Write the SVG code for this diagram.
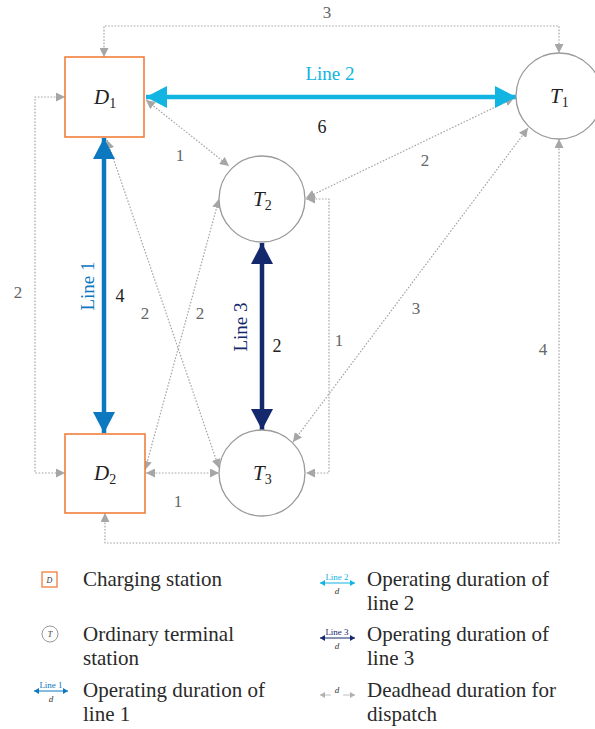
<svg xmlns="http://www.w3.org/2000/svg" width="595" height="729" viewBox="0 0 595 729">
<style>
.dot{fill:none;stroke:#a6a6a6;stroke-width:1.2;stroke-dasharray:1.6 1.6}
.box{fill:#fff;stroke:#f07f3c;stroke-width:1.6}
.circ{fill:#fff;stroke:#9a9a9a;stroke-width:1.3}
.nl{font-family:"Liberation Serif",serif;font-style:italic;font-size:21px;fill:#222}
.sub{font-size:14px;font-style:normal}
.num{font-family:"Liberation Serif",serif;font-size:17px;fill:#666;text-anchor:middle}
.numk{font-family:"Liberation Serif",serif;font-size:18px;fill:#222;text-anchor:middle}
.lab{font-family:"Liberation Serif",serif;font-size:19px;text-anchor:middle}
.leg{font-family:"Liberation Serif",serif;font-size:21px;fill:#2a2a2a}
.tiny{font-family:"Liberation Serif",serif;font-size:9px;text-anchor:middle}
</style>
<defs>
<marker id="ag" markerUnits="userSpaceOnUse" markerWidth="10" markerHeight="9" refX="9" refY="4.5" orient="auto-start-reverse"><path d="M0,0 L9,4.5 L0,9 z" fill="#a6a6a6"/></marker>
<marker id="a1" markerUnits="userSpaceOnUse" markerWidth="22" markerHeight="22" refX="21" refY="11" orient="auto-start-reverse"><path d="M0,0 L21,11 L0,22 z" fill="#0b78c0"/></marker>
<marker id="a2" markerUnits="userSpaceOnUse" markerWidth="22" markerHeight="22" refX="21" refY="11" orient="auto-start-reverse"><path d="M0,0 L21,11 L0,22 z" fill="#12b4e1"/></marker>
<marker id="a3" markerUnits="userSpaceOnUse" markerWidth="22" markerHeight="22" refX="21" refY="11" orient="auto-start-reverse"><path d="M0,0 L21,11 L0,22 z" fill="#14286e"/></marker>
<marker id="s1" markerUnits="userSpaceOnUse" markerWidth="6" markerHeight="6" refX="5" refY="3" orient="auto-start-reverse"><path d="M0,0 L5,3 L0,6 z" fill="#0b78c0"/></marker>
<marker id="s2" markerUnits="userSpaceOnUse" markerWidth="6" markerHeight="6" refX="5" refY="3" orient="auto-start-reverse"><path d="M0,0 L5,3 L0,6 z" fill="#12b4e1"/></marker>
<marker id="s3" markerUnits="userSpaceOnUse" markerWidth="6" markerHeight="6" refX="5" refY="3" orient="auto-start-reverse"><path d="M0,0 L5,3 L0,6 z" fill="#14286e"/></marker>
<marker id="sg" markerUnits="userSpaceOnUse" markerWidth="6" markerHeight="6" refX="5" refY="3" orient="auto-start-reverse"><path d="M0,0 L5,3 L0,6 z" fill="#b0b0b0"/></marker>
</defs>

<g id="connectors">
<path class="dot" d="M104,57 V26 H559 V53" marker-start="url(#ag)" marker-end="url(#ag)"/>
<path class="dot" d="M65,97 H35 V473 H65" marker-start="url(#ag)" marker-end="url(#ag)"/>
<path class="dot" d="M105,513 V543 H559 V139" marker-start="url(#ag)" marker-end="url(#ag)"/>
<path class="dot" d="M146,100 L229,166" marker-start="url(#ag)" marker-end="url(#ag)"/>
<path class="dot" d="M514,98 L306,198" marker-start="url(#ag)" marker-end="url(#ag)"/>
<path class="dot" d="M528,128 L293,442" marker-start="url(#ag)" marker-end="url(#ag)"/>
<path class="dot" d="M306,199 H329 V473 H306" marker-start="url(#ag)" marker-end="url(#ag)"/>
<path class="dot" d="M107,140 L219,468" marker-start="url(#ag)" marker-end="url(#ag)"/>
<path class="dot" d="M145,470 L219,199" marker-start="url(#ag)" marker-end="url(#ag)"/>
<path class="dot" d="M146,473 H219" marker-start="url(#ag)" marker-end="url(#ag)"/>
<line x1="104" y1="138" x2="104" y2="433" stroke="#0b78c0" stroke-width="4.5" marker-start="url(#a1)" marker-end="url(#a1)"/>
<line x1="146" y1="97" x2="516" y2="97" stroke="#12b4e1" stroke-width="4.5" marker-start="url(#a2)" marker-end="url(#a2)"/>
<line x1="262" y1="243" x2="262" y2="430" stroke="#14286e" stroke-width="4.5" marker-start="url(#a3)" marker-end="url(#a3)"/>
<text class="lab" x="330" y="80" fill="#12b4e1">Line 2</text>
<text class="numk" x="322" y="133">6</text>
<text class="lab" transform="translate(94,286) rotate(-90)" fill="#0b78c0">Line 1</text>
<text class="numk" x="120" y="302">4</text>
<text class="lab" transform="translate(247,327) rotate(-90)" fill="#14286e">Line 3</text>
<text class="numk" x="277" y="352">2</text>
<text class="num" x="327" y="18">3</text>
<text class="num" x="18" y="298">2</text>
<text class="num" x="543" y="355">4</text>
<text class="num" x="180" y="161">1</text>
<text class="num" x="425" y="166">2</text>
<text class="num" x="416" y="314">3</text>
<text class="num" x="339" y="346">1</text>
<text class="num" x="145" y="319">2</text>
<text class="num" x="200" y="319">2</text>
<text class="num" x="178" y="507">1</text>
</g>

<g id="D1"><rect class="box" x="65" y="57" width="79" height="80"/><text class="nl" x="94" y="104">D<tspan class="sub" dy="4">1</tspan></text></g>
<g id="D2"><rect class="box" x="65" y="434" width="80" height="79"/><text class="nl" x="94" y="480">D<tspan class="sub" dy="4">2</tspan></text></g>
<g id="T1"><circle class="circ" cx="559" cy="96" r="43"/><text class="nl" x="550" y="103">T<tspan class="sub" dy="4">1</tspan></text></g>
<g id="T2"><circle class="circ" cx="262" cy="199" r="43"/><text class="nl" x="253" y="206">T<tspan class="sub" dy="4">2</tspan></text></g>
<g id="T3"><circle class="circ" cx="262" cy="473" r="43"/><text class="nl" x="253" y="480">T<tspan class="sub" dy="4">3</tspan></text></g>

<g id="legend">
<rect x="42" y="572" width="15" height="15" fill="#fff" stroke="#f07f3c" stroke-width="1.3"/>
<text x="49.5" y="583" font-family="Liberation Serif,serif" font-style="italic" font-size="8" text-anchor="middle" fill="#333">D</text>
<text class="leg" x="83" y="586">Charging station</text>
<circle cx="50" cy="634" r="8" fill="#fff" stroke="#999" stroke-width="1"/>
<text x="50" y="637" font-family="Liberation Serif,serif" font-style="italic" font-size="8" text-anchor="middle" fill="#333">T</text>
<text class="leg" x="83" y="641">Ordinary terminal</text>
<text class="leg" x="83" y="665">station</text>
<line x1="34" y1="691" x2="68" y2="691" stroke="#0b78c0" stroke-width="1.2" marker-start="url(#s1)" marker-end="url(#s1)"/>
<text class="tiny" x="51" y="688" fill="#0b78c0">Line 1</text>
<text class="tiny" x="51" y="702" font-style="italic" fill="#333">d</text>
<text class="leg" x="83" y="697">Operating duration of</text>
<text class="leg" x="83" y="721">line 1</text>

<line x1="320" y1="583" x2="355" y2="583" stroke="#12b4e1" stroke-width="1.2" marker-start="url(#s2)" marker-end="url(#s2)"/>
<text class="tiny" x="337" y="580" fill="#12b4e1">Line 2</text>
<text class="tiny" x="337" y="594" font-style="italic" fill="#333">d</text>
<text class="leg" x="367" y="586">Operating duration of</text>
<text class="leg" x="367" y="610">line 2</text>
<line x1="320" y1="638" x2="355" y2="638" stroke="#14286e" stroke-width="1.2" marker-start="url(#s3)" marker-end="url(#s3)"/>
<text class="tiny" x="337" y="635" fill="#14286e">Line 3</text>
<text class="tiny" x="337" y="649" font-style="italic" fill="#333">d</text>
<text class="leg" x="367" y="641">Operating duration of</text>
<text class="leg" x="367" y="665">line 3</text>
<line x1="320" y1="695" x2="355" y2="695" stroke="#b0b0b0" stroke-width="0.8" marker-start="url(#sg)" marker-end="url(#sg)"/>
<rect x="331" y="684" width="12" height="13" fill="#fff"/>
<text class="tiny" x="337" y="693" font-style="italic" fill="#333">d</text>
<text class="leg" x="367" y="697">Deadhead duration for</text>
<text class="leg" x="367" y="721">dispatch</text>
</g>
</svg>
